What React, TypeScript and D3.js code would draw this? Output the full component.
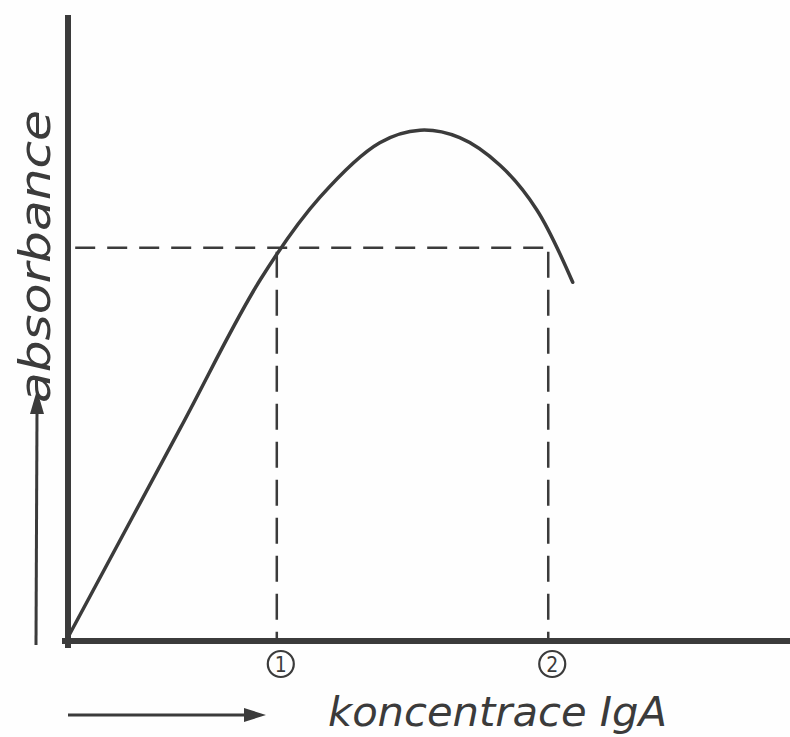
import React from "react";
import * as d3 from "d3";

// data (concentration units, absorbance units)
const concentration = [0, 1.56, 2.67, 3.5, 4.33, 4.89, 5.44, 6.0, 6.51, 7.01];
const absorbance = [0.006, 0.34, 0.577, 0.709, 0.796, 0.816, 0.804, 0.76, 0.689, 0.573];
const refAbsorbance = 0.628;
const markConc = [2.9, 6.67];
const markLabels = ["1", "2"];
const xLabel = "koncentrace IgA";
const yLabel = "absorbance";

const W = 790;
const H = 737;

export default function App() {
  const x = d3.scaleLinear().domain([0, 10]).range([68, 788]);
  const y = d3.scaleLinear().domain([0, 1]).range([641, 15]);
  const pts: [number, number][] = concentration.map((c, i) => [c, absorbance[i]]);
  const line = d3
    .line<[number, number]>()
    .x((d) => x(d[0]))
    .y((d) => y(d[1]))
    .curve(d3.curveCatmullRom.alpha(0.5));
  const ink = "#3b3b3b";
  const font = "'DejaVu Sans Condensed', 'DejaVu Sans', sans-serif";
  return (
    <svg
      width={W}
      height={H}
      style={{ position: "absolute", left: 0, top: 0, background: "#fefefe" }}
    >
      {/* dashed reference lines */}
      <line
        x1={x(0.1)}
        x2={x(6.74)}
        y1={y(refAbsorbance)}
        y2={y(refAbsorbance)}
        stroke={ink}
        strokeWidth={2.5}
        strokeDasharray="20 12"
      />
      {markConc.map((c, i) => (
        <line
          key={i}
          x1={x(c)}
          x2={x(c)}
          y1={y(refAbsorbance) + 4}
          y2={y(0)}
          stroke={ink}
          strokeWidth={2.5}
          strokeDasharray="26 12"
        />
      ))}
      {/* curve */}
      <path d={line(pts) || ""} fill="none" stroke={ink} strokeWidth={3.5} strokeLinecap="round" />
      {/* axes */}
      <line x1={x(0)} x2={x(0)} y1={y(1)} y2={y(0) + 7} stroke={ink} strokeWidth={6} />
      <line x1={x(0) - 6} x2={790} y1={y(0)} y2={y(0)} stroke={ink} strokeWidth={6} />
      {/* circled marks */}
      {markConc.map((c, i) => (
        <g key={i} transform={`translate(${x(c) + 4},${y(0) + 23})`}>
          <circle r={13} fill="none" stroke={ink} strokeWidth={2.2} />
          <text
            textAnchor="middle"
            dy="0.36em"
            fontSize={21}
            fontFamily={font}
            fill={ink}
          >
            {markLabels[i]}
          </text>
        </g>
      ))}
      {/* x label with arrow */}
      <line x1={68} x2={248} y1={715} y2={715} stroke={ink} strokeWidth={3} />
      <path d="M244,708 L266,715 L244,722 Z" fill={ink} />
      <text
        x={328}
        y={726}
        fontSize={40}
        fontStyle="italic"
        fontFamily={font}
        fill={ink}
        textLength={339}
        lengthAdjust="spacingAndGlyphs"
      >
        {xLabel}
      </text>
      {/* y label with arrow */}
      <line x1={36} x2={37} y1={645} y2={410} stroke={ink} strokeWidth={3} />
      <path d="M30,414 L37,390 L44,414 Z" fill={ink} />
      <text
        transform="translate(50,403) rotate(-90)"
        fontSize={42}
        fontFamily={font}
        fill={ink}
        textLength={293}
        lengthAdjust="spacingAndGlyphs"
        fontStyle="italic"
      >
        {yLabel}
      </text>
    </svg>
  );
}
